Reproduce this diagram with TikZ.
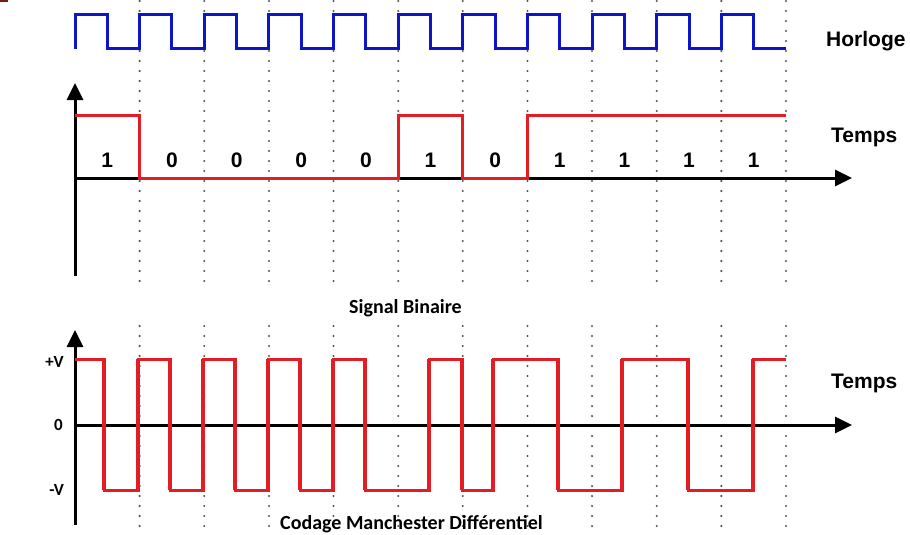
\documentclass[tikz,border=0pt]{standalone}
\usepackage{fontspec}
\setmainfont{Liberation Sans}
\newfontfamily\calibri{Carlito}
\usetikzlibrary{arrows.meta}
\definecolor{sigred}{RGB}{226,30,36}
\definecolor{clkblue}{RGB}{12,22,196}
\definecolor{dotgray}{RGB}{85,85,85}
\definecolor{darkred}{RGB}{125,25,20}
\begin{document}
\begin{tikzpicture}[x=1pt,y=-1pt,>={Triangle[length=17pt,width=16pt]},
	grid/.style={dotgray,line width=2.3pt,line cap=round,dash pattern=on 0pt off 10pt},
	axis/.style={black,line width=3pt,->},
	lbl/.style={inner sep=0pt,font=\bfseries\fontsize{21}{21}\selectfont},
	bit/.style={inner sep=0pt,anchor=base,font=\bfseries\fontsize{21}{21}\selectfont},
	caption/.style={inner sep=0pt,font=\calibri\bfseries\fontsize{20}{20}\selectfont},
	lvl/.style={inner sep=0pt,anchor=base east,font=\calibri\bfseries\fontsize{17}{17}\selectfont}]
	\def\bw{64.636}
	\useasboundingbox (0,0) rectangle (910,535);
	\fill[darkred] (0,0) rectangle (8,2.5);
	\foreach \k in {1,...,11}
		\draw[grid] ({75+\k*\bw},1) -- ({75+\k*\bw},283) ({75+\k*\bw},326) -- ({75+\k*\bw},535);
	\draw[clkblue,line width=3pt] (75,49) \foreach \k in {0,...,10}{ |- ({75+(\k+0.5)*\bw},15) |- ({75+(\k+1)*\bw},49)};
	\draw[axis] (75,276)--(75,83);
	\draw[axis] (75,178)--(852,178);
	\draw[sigred,line width=3pt] (75,115) -| (139.6,178) -| (398.2,115) -| (462.8,178) -| (527.5,115) -- (786,115);
	\foreach \b [count=\i from 0] in {1,0,0,0,0,1,0,1,1,1,1}
		\node[bit] (bit\i) at ({75+(\i+0.5)*\bw},167) {\b};
	\draw[axis] (75,525)--(75,330);
	\draw[axis] (75,425)--(852,425);
	\draw[sigred,line width=3pt] (75,359) -| (104,490) -| (138,359) -| (170,490) -| (203,359) -| (235,490) -| (268,359) -| (300,490) -| (333,359) -| (365,490) -| (429,359) -| (462,490) -| (493,359) -| (558,490) -| (622,359) -| (688,490) -| (753,359) -- (786,359);
	\foreach \t in {104,138,170,203,235,268,300,333,365,429,462,493,558,622,688,753}
		\draw[sigred,line width=4.5pt] (\t,359) -- (\t,490);
	\node[lbl,anchor=base west] (horloge) at (826,47) {Horloge};
	\node[lbl,anchor=base west] (temps1) at (831,142) {Temps};
	\node[lbl,anchor=base west] (temps2) at (831,388) {Temps};
	\node[caption,anchor=base west] (binaire) at (349,313) {Signal Binaire};
	\node[caption,anchor=base west] (codage) at (280,529) {Codage Manchester Différentiel};
	\node[lvl] (plusv) at (64,367) {+V};
	\node[lvl] (zero) at (63,430) {0};
	\node[lvl] (minusv) at (64,495) {-V};
\end{tikzpicture}
\end{document}
